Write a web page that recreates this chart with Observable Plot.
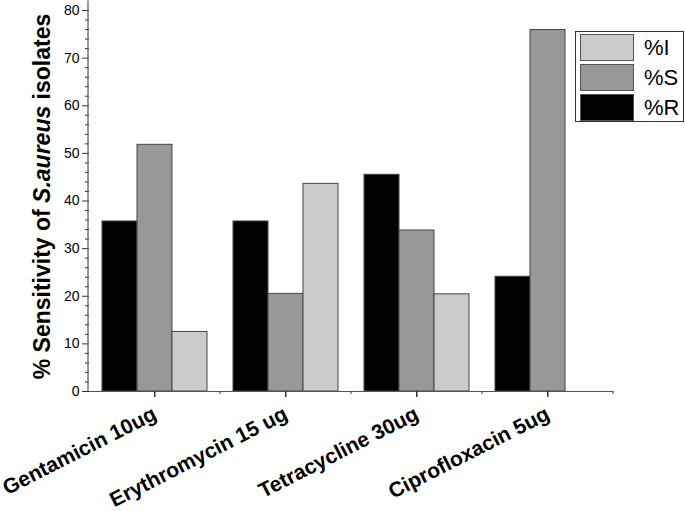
<!DOCTYPE html>
<html><head><meta charset="utf-8">
<script src="https://cdn.jsdelivr.net/npm/d3@7"></script>
<script src="https://cdn.jsdelivr.net/npm/@observablehq/plot@0.6"></script>
<style>
body{margin:0;background:#fff;font-family:"Liberation Sans",Arial,sans-serif;}
#wrap{position:relative;width:685px;height:511px;overflow:hidden;}
#legend{position:absolute;left:575px;top:31px;width:109px;height:91px;border:1px solid #333;box-sizing:border-box;background:#fff;}
.row{position:absolute;left:4px;height:27px;width:100px;}
.sw{position:absolute;left:0;top:0;width:54px;height:27px;border:1px solid #555;box-sizing:border-box;}
.lb{position:absolute;left:64px;top:0;line-height:27px;font-size:22px;color:#000;}
</style></head><body><div id="wrap"></div>
<script>
const drugs = ["Gentamicin 10ug", "Erythromycin 15 ug", "Tetracycline 30ug", "Ciprofloxacin 5ug"];
const seriesOrder = ["R", "S", "I"];
const valuesR = [35.7, 35.7, 45.5, 24.1];
const valuesS = [51.8, 20.5, 33.8, 75.9];
const valuesI = [12.5, 43.6, 20.4, null];
const yMajorTicks = [0, 10, 20, 30, 40, 50, 60, 70, 80];
const yMinorTicks = [2,4,6,8,12,14,16,18,22,24,26,28,32,34,36,38,42,44,46,48,52,54,56,58,62,64,66,68,72,74,76,78];
const legendSeries = ["I", "S", "R"];
const legendLabels = ["%I", "%S", "%R"];
const colors = {R: "#000000", S: "#989898", I: "#cbcbcb"};

const valuesBySeries = {R: valuesR, S: valuesS, I: valuesI};
const data = [];
drugs.forEach((d, i) => seriesOrder.forEach(s => {
  const v = valuesBySeries[s][i];
  if (v != null) data.push({drug: d, series: s, value: v});
}));

const plot = Plot.plot({
  width: 685, height: 511,
  marginLeft: 88, marginRight: 71, marginTop: 10, marginBottom: 120,
  style: {fontFamily: "Liberation Sans, Arial, sans-serif", background: "#fff", overflow: "visible"},
  fx: {domain: drugs, padding: 0},
  x: {domain: seriesOrder, paddingInner: 0, paddingOuter: 0.36, axis: null},
  y: {domain: [0, 80]},
  color: {domain: seriesOrder, range: seriesOrder.map(s => colors[s])},
  marks: [
    Plot.barY(data, {fx: "drug", x: "series", y: "value", fill: "series", stroke: "#444", strokeWidth: 1}),
    Plot.ruleY([0], {stroke: "#555", strokeWidth: 1.2}),
    Plot.axisY(yMinorTicks, {tickSize: 4, tickFormat: () => "", label: null, stroke: "#333"}),
    Plot.axisY(yMajorTicks, {tickSize: 7, tickPadding: 3, fontSize: 14, label: null, stroke: "#333", fill: "#000"}),
    Plot.axisFx({anchor: "bottom", tickSize: 6, tickFormat: () => "", label: null, stroke: "#333"}),
    Plot.text(drugs, {fx: d => d, text: d => d, frameAnchor: "bottom", rotate: -27, textAnchor: "end", lineAnchor: "bottom", dx: 3, dy: 27, fontSize: 21, fontWeight: "bold", fill: "#000"})
  ]
});

const wrap = document.getElementById("wrap");
wrap.appendChild(plot);

const svg = d3.select(plot);
const fx = plot.scale("fx");
const y = plot.scale("y");
const y0 = y.apply(0);
// y axis line
svg.append("line").attr("x1", 88).attr("x2", 88).attr("y1", y0).attr("y2", y.apply(82))
  .attr("stroke", "#555").attr("stroke-width", 1.2);
// x ticks: major at category centres, minor at category boundaries
drugs.forEach(d => {
  const xl = fx.apply(d);
  const xc = xl + fx.bandwidth / 2;
  const xr = xl + fx.bandwidth;
  svg.append("line").attr("x1", xc).attr("x2", xc).attr("y1", y0).attr("y2", y0 + 6)
    .attr("stroke", "#333");
  svg.append("line").attr("x1", xr).attr("x2", xr).attr("y1", y0).attr("y2", y0 + 3)
    .attr("stroke", "#333");
});
// y axis title
const t = svg.append("text")
  .attr("transform", `translate(50,${(y0 + y.apply(80)) / 2 - 4}) rotate(-90)`)
  .attr("text-anchor", "middle").attr("font-size", 23).attr("font-weight", "bold")
  .attr("font-family", "Liberation Sans, Arial, sans-serif").attr("fill", "#000");
t.append("tspan").text("% Sensitivity of ");
t.append("tspan").attr("font-style", "italic").text("S.aureus");
t.append("tspan").text(" isolates");

// legend
const leg = document.createElement("div");
leg.id = "legend";
legendSeries.forEach((s, i) => {
  const row = document.createElement("div");
  row.className = "row";
  row.style.top = (2 + i * 30) + "px";
  const sw = document.createElement("div");
  sw.className = "sw";
  sw.style.background = colors[s];
  const lb = document.createElement("div");
  lb.className = "lb";
  lb.textContent = legendLabels[i];
  row.appendChild(sw); row.appendChild(lb);
  leg.appendChild(row);
});
wrap.appendChild(leg);
</script></body></html>
